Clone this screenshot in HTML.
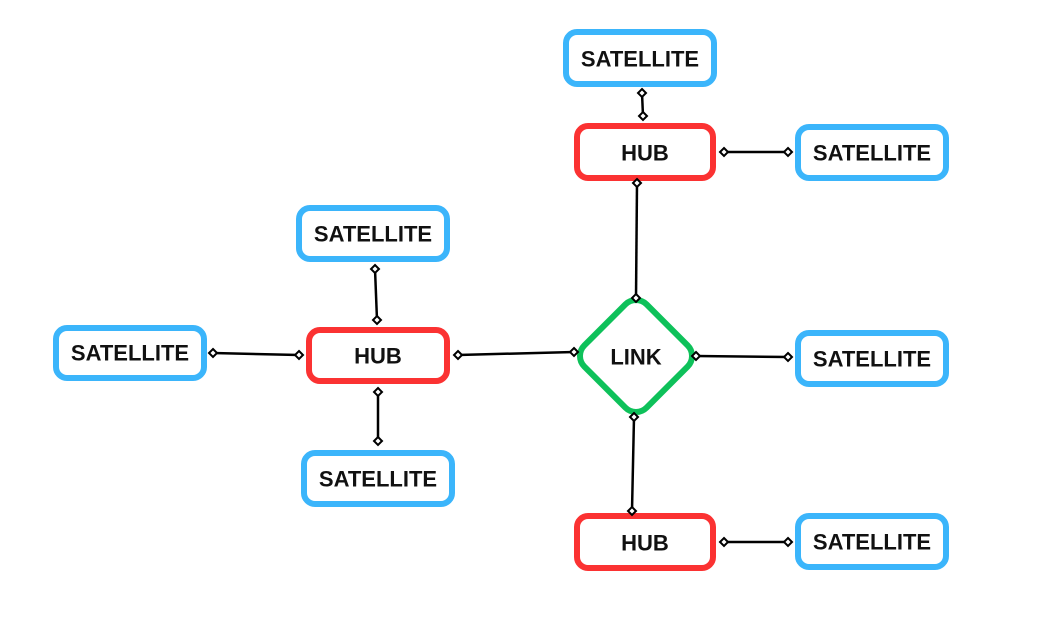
<!DOCTYPE html>
<html><head><style>body{margin:0;background:#fff}svg{display:block}text{font-family:"Liberation Sans",sans-serif;font-weight:bold;font-size:22px;fill:#111;text-anchor:middle;dominant-baseline:central}</style></head><body>
<svg width="1052" height="630" viewBox="0 0 1052 630">
<g fill="#fff" stroke-width="6">
<rect x="566" y="32" width="148" height="52" rx="11" stroke="#3bb5fb"/>
<rect x="577" y="126" width="136" height="52" rx="11" stroke="#fb3232"/>
<rect x="798" y="127" width="148" height="51" rx="11" stroke="#3bb5fb"/>
<rect x="299" y="208" width="148" height="51" rx="11" stroke="#3bb5fb"/>
<rect x="309" y="330" width="138" height="51" rx="11" stroke="#fb3232"/>
<rect x="56" y="328" width="148" height="50" rx="11" stroke="#3bb5fb"/>
<rect x="304" y="453" width="148" height="51" rx="11" stroke="#3bb5fb"/>
<rect x="798" y="333" width="148" height="51" rx="11" stroke="#3bb5fb"/>
<rect x="577" y="516" width="136" height="52" rx="11" stroke="#fb3232"/>
<rect x="798" y="516" width="148" height="51" rx="11" stroke="#3bb5fb"/>
<rect x="592" y="312" width="88" height="88" rx="15" stroke="#0ec15a" transform="rotate(45 636 356)"/>
</g>
<g stroke="#000" stroke-width="2.5" fill="none">
<line x1="642" y1="93" x2="643" y2="116"/>
<line x1="724" y1="152" x2="788" y2="152"/>
<line x1="637" y1="183" x2="636" y2="298"/>
<line x1="375" y1="269" x2="377" y2="320"/>
<line x1="213" y1="353" x2="299" y2="355"/>
<line x1="378" y1="392" x2="378" y2="441"/>
<line x1="458" y1="355" x2="574" y2="352"/>
<line x1="696" y1="356" x2="788" y2="357"/>
<line x1="634" y1="417" x2="632" y2="511"/>
<line x1="724" y1="542" x2="788" y2="542"/>
</g>
<g fill="#fff" stroke="#000" stroke-width="2">
<path d="M642 89l4 4-4 4-4-4z"/><path d="M643 112l4 4-4 4-4-4z"/>
<path d="M724 148l4 4-4 4-4-4z"/><path d="M788 148l4 4-4 4-4-4z"/>
<path d="M637 179l4 4-4 4-4-4z"/><path d="M636 294l4 4-4 4-4-4z"/>
<path d="M375 265l4 4-4 4-4-4z"/><path d="M377 316l4 4-4 4-4-4z"/>
<path d="M213 349l4 4-4 4-4-4z"/><path d="M299 351l4 4-4 4-4-4z"/>
<path d="M378 388l4 4-4 4-4-4z"/><path d="M378 437l4 4-4 4-4-4z"/>
<path d="M458 351l4 4-4 4-4-4z"/><path d="M574 348l4 4-4 4-4-4z"/>
<path d="M696 352l4 4-4 4-4-4z"/><path d="M788 353l4 4-4 4-4-4z"/>
<path d="M634 413l4 4-4 4-4-4z"/><path d="M632 507l4 4-4 4-4-4z"/>
<path d="M724 538l4 4-4 4-4-4z"/><path d="M788 538l4 4-4 4-4-4z"/>
</g>
<text x="640" y="59">SATELLITE</text>
<text x="645" y="153">HUB</text>
<text x="872" y="153">SATELLITE</text>
<text x="373" y="234">SATELLITE</text>
<text x="378" y="356">HUB</text>
<text x="130" y="353">SATELLITE</text>
<text x="378" y="479">SATELLITE</text>
<text x="636" y="357">LINK</text>
<text x="872" y="359">SATELLITE</text>
<text x="645" y="543">HUB</text>
<text x="872" y="542">SATELLITE</text>
</svg>
</body></html>
